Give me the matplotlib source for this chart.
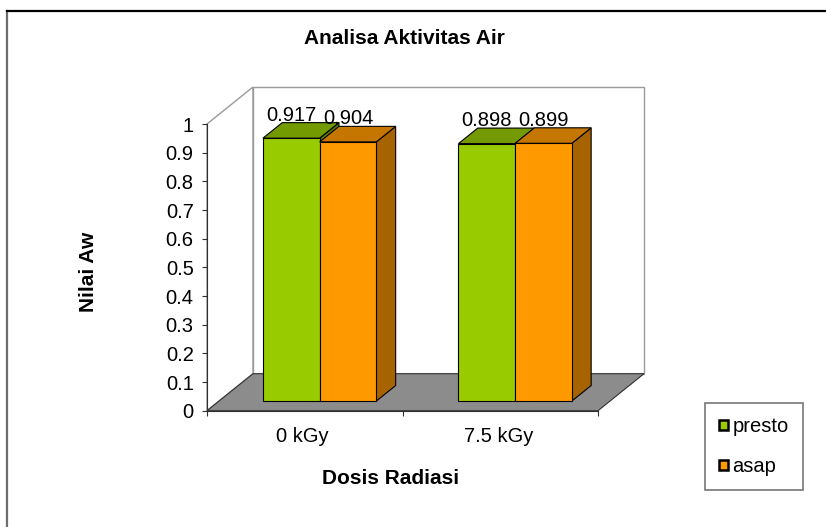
import numpy as np
import matplotlib.pyplot as plt
from matplotlib.patches import Polygon, Patch
from matplotlib.lines import Line2D

plt.rcParams['font.family'] = ['Liberation Sans', 'DejaVu Sans']

# data
categories = ['0 kGy', '7.5 kGy']
series_names = ['presto', 'asap']
presto = [0.917, 0.898]
asap = [0.904, 0.899]
y_ticks = [0, 0.1, 0.2, 0.3, 0.4, 0.5, 0.6, 0.7, 0.8, 0.9, 1]

# colours: front, top, side
face_colors = {'presto': ('#99CC00', '#739A00', '#5C7A00'),
               'asap': ('#FF9900', '#C47600', '#A66300')}

W, H = 826, 527
fig = plt.figure(figsize=(W / 100, H / 100), dpi=100)
fig.patch.set_facecolor('white')

# front plane of the 3d box
ax = fig.add_axes([207 / W, 1 - 410.7 / H, 391 / W, 286.7 / H])
ax.set_xlim(0, len(categories))
ax.set_ylim(0, 1)
ax.patch.set_visible(False)

# depth vector of the box, in data units
Dx, Dy = 46 / 195.5, 37 / 286.7
f0, f1 = 0.26, 0.68   # bar depth, front and back
bar_w = 0.29
n = len(categories)
txt = 14.5

def poly(pts, fc, ec, lw=0.8, z=1):
    p = Polygon(pts, closed=True, facecolor=fc, edgecolor=ec, linewidth=lw,
                zorder=z, clip_on=False)
    ax.add_patch(p)

# walls and floor
poly([(0, 0), (0, 1), (Dx, 1 + Dy), (Dx, Dy)], 'white', '#9A9A9A', 1.0, 0.5)
poly([(Dx, Dy), (Dx, 1 + Dy), (n + Dx, 1 + Dy), (n + Dx, Dy)], 'white', '#9A9A9A', 1.0, 0.5)
poly([(0, 0), (n, 0), (n + Dx, Dy), (Dx, Dy)], '#8C8C8C', '#303030', 0.8, 0.8)

# bars
values = {'presto': presto, 'asap': asap}
z = 2
for i in range(n):
    for j, name in enumerate(series_names):
        v = values[name][i]
        front, top, side = face_colors[name]
        x0 = i + 0.515 + (j - 1) * bar_w
        x1 = x0 + bar_w
        # side face
        poly([(x1 + f0 * Dx, f0 * Dy), (x1 + f0 * Dx, v + f0 * Dy),
              (x1 + f1 * Dx, v + f1 * Dy), (x1 + f1 * Dx, f1 * Dy)], side, 'black', 0.8, z)
        # top face
        poly([(x0 + f0 * Dx, v + f0 * Dy), (x1 + f0 * Dx, v + f0 * Dy),
              (x1 + f1 * Dx, v + f1 * Dy), (x0 + f1 * Dx, v + f1 * Dy)], top, 'black', 0.8, z)
        # front face
        ax.bar(x0 + f0 * Dx, v, width=bar_w, bottom=f0 * Dy, align='edge',
               color=front, edgecolor='black', linewidth=0.8, zorder=z + 0.1, clip_on=False)
        ax.annotate(f'{v:.3f}', xy=(x0 + bar_w / 2 + f0 * Dx, v + f1 * Dy),
                    xytext=(0, 2), textcoords='offset pixels', ha='center',
                    va='baseline', fontsize=txt, zorder=10, annotation_clip=False)
        z += 1

# axes
for s in ['top', 'right']:
    ax.spines[s].set_visible(False)
ax.spines['left'].set_color('#303030')
ax.spines['bottom'].set_color('#303030')
ax.spines['left'].set_zorder(20)
ax.spines['bottom'].set_zorder(20)
ax.set_yticks(y_ticks)
ax.set_yticklabels([f'{t:g}' for t in y_ticks])
ax.set_xticks(range(n + 1))
ax.set_xticklabels([])
ax.set_xticks([i + 0.49 for i in range(n)], minor=True)
ax.set_xticklabels(categories, minor=True)
ax.tick_params(axis='y', length=3.6, pad=6, labelsize=txt, color='#303030')
ax.tick_params(axis='x', which='major', length=3.6, color='#303030')
ax.tick_params(axis='x', which='minor', length=0, pad=12, labelsize=txt)

# titles
fig.text(404 / W, 1 - 38 / H, 'Analisa Aktivitas Air', ha='center', va='center',
         fontsize=15, fontweight='bold')
fig.text(89 / W, 1 - 272 / H, 'Nilai Aw', ha='center', va='center', rotation=90,
         fontsize=15, fontweight='bold')
fig.text(391 / W, 1 - 478 / H, 'Dosis Radiasi', ha='center', va='center',
         fontsize=15, fontweight='bold')

# legend
handles = [Patch(facecolor=face_colors[s][0], edgecolor='black', linewidth=1.8)
           for s in series_names]
leg = fig.legend(handles, series_names, loc='upper left',
                 bbox_to_anchor=(705 / W, 1 - 403 / H), fontsize=txt,
                 handlelength=0.45, handleheight=0.45, handletextpad=0.2,
                 labelspacing=1.05, borderpad=0.7, borderaxespad=0,
                 fancybox=False, frameon=True)
leg.get_frame().set_edgecolor('#555555')
leg.get_frame().set_linewidth(1.2)

# chart area border (cut off at right and bottom)
fig.add_artist(Line2D([7 / W, 7 / W], [0, 1 - 11 / H], transform=fig.transFigure,
                      color='#6E6E6E', linewidth=1.6))
fig.add_artist(Line2D([7 / W, 1], [1 - 11 / H, 1 - 11 / H], transform=fig.transFigure,
                      color='black', linewidth=1.6))

fig.savefig('out.png', dpi=100)
